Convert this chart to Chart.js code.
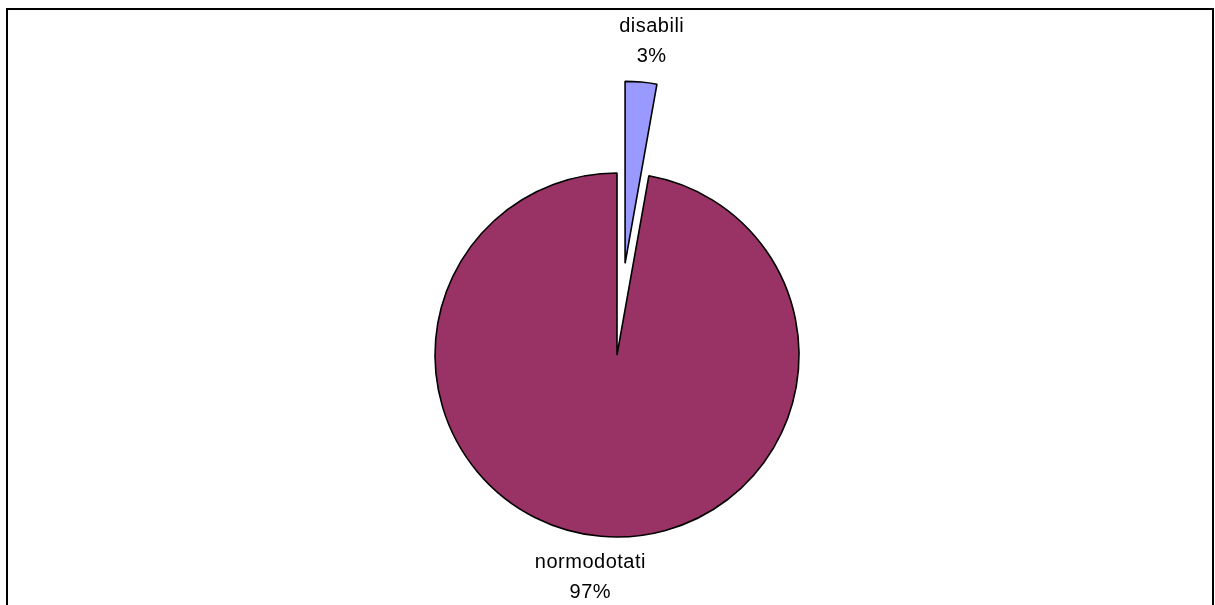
<!DOCTYPE html>
<html>
<head>
<meta charset="utf-8">
<script src="https://cdn.jsdelivr.net/npm/chart.js@4/dist/chart.umd.min.js"></script>
<style>
  html, body { margin: 0; padding: 0; background: #ffffff; }
  #wrap { width: 1215px; height: 605px; position: relative; }
</style>
</head>
<body>
<div id="wrap"><canvas id="c" width="1215" height="605"></canvas></div>
<script>
const categories = ['disabili', 'normodotati'];
const values = [2.8, 97.2];
const percentLabels = ['3%', '97%'];
const sliceColors = ['#9999FF', '#993366'];

// style: how far each slice is pulled out of the pie (px)
const EXPLODE_PX = [92, 0];

const framePlugin = {
  id: 'frame',
  beforeDraw(chart) {
    const ctx = chart.ctx;
    ctx.save();
    ctx.fillStyle = '#ffffff';
    ctx.fillRect(0, 0, chart.width, chart.height);
    ctx.strokeStyle = '#000000';
    ctx.lineWidth = 2;
    ctx.beginPath();
    ctx.moveTo(7, 605);
    ctx.lineTo(7, 9);
    ctx.lineTo(1213, 9);
    ctx.lineTo(1213, 605);
    ctx.stroke();
    ctx.restore();
  }
};

// pull slices outward along their mid-angle, keeping their radius
const explodePlugin = {
  id: 'explode',
  beforeDatasetsDraw(chart) {
    const meta = chart.getDatasetMeta(0);
    meta.data.forEach((arc, i) => {
      if (arc._cx === undefined) { arc._cx = arc.x; arc._cy = arc.y; }
      const e = EXPLODE_PX[i] || 0;
      const mid = (arc.startAngle + arc.endAngle) / 2;
      arc.x = arc._cx + Math.cos(mid) * e;
      arc.y = arc._cy + Math.sin(mid) * e;
    });
  }
};

const labelPlugin = {
  id: 'sliceLabels',
  afterDatasetsDraw(chart) {
    const ctx = chart.ctx;
    const meta = chart.getDatasetMeta(0);
    ctx.save();
    ctx.font = '20px "Liberation Sans", Arial, sans-serif';
    if ('letterSpacing' in ctx) ctx.letterSpacing = '0.5px';
    ctx.fillStyle = '#000000';
    ctx.textAlign = 'center';
    ctx.textBaseline = 'middle';
    meta.data.forEach((arc, i) => {
      const mid = (arc.startAngle + arc.endAngle) / 2;
      const ox = arc._cx !== undefined ? arc._cx : arc.x;
      const oy = arc._cy !== undefined ? arc._cy : arc.y;
      const d = arc.outerRadius + (EXPLODE_PX[i] || 0) + 41;
      const cx = ox + Math.cos(mid) * (d + 80);
      const cy = oy + Math.sin(mid) * d;
      ctx.fillText(categories[i], cx, cy - 15);
      ctx.fillText(percentLabels[i], cx, cy + 15);
    });
    ctx.restore();
  }
};

new Chart(document.getElementById('c'), {
  type: 'pie',
  data: {
    labels: categories,
    datasets: [{
      data: values,
      backgroundColor: sliceColors,
      borderColor: '#000000',
      borderWidth: 1.6,
      hoverOffset: 0
    }]
  },
  options: {
    responsive: false,
    animation: false,
    radius: 182,
    layout: { padding: { left: 19, right: 0, top: 105, bottom: 0 } },
    plugins: {
      legend: { display: false },
      tooltip: { enabled: false },
      title: { display: false }
    },
    events: []
  },
  plugins: [framePlugin, explodePlugin, labelPlugin]
});
</script>
</body>
</html>
